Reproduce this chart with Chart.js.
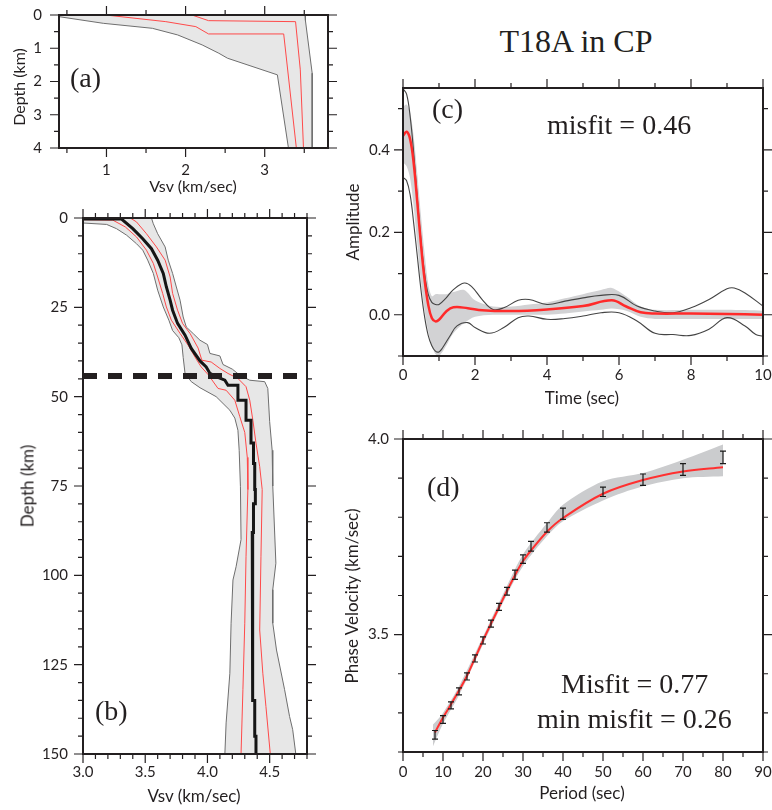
<!DOCTYPE html>
<html><head><meta charset="utf-8">
<script src="https://cdn.jsdelivr.net/npm/chart.js@4.4.1/dist/chart.umd.min.js"></script>
<style>
html,body{margin:0;padding:0;background:#fff}
body{position:relative;width:772px;height:810px;overflow:hidden}
canvas{position:absolute}
.t{position:absolute;white-space:nowrap;line-height:1;color:#231f20}
.serif{font-family:"Liberation Serif","Times New Roman",serif}
.sans{font-family:Lato,sans-serif}
.rot{transform:translate(-50%,-50%) rotate(-90deg)}
.ctr{transform:translateX(-50%)}
</style></head><body>
<canvas id="ca"></canvas><canvas id="cb"></canvas><canvas id="cc"></canvas><canvas id="cd"></canvas>

<div class="t serif ctr" style="left:576px;top:25px;font-size:32px">T18A in CP</div>
<div class="t serif" style="left:70px;top:63.5px;font-size:28px">(a)</div>
<div class="t serif" style="left:95px;top:696.5px;font-size:28px">(b)</div>
<div class="t serif" style="left:432px;top:95px;font-size:28px">(c)</div>
<div class="t serif" style="left:547px;top:111px;font-size:28px">misfit = 0.46</div>
<div class="t serif" style="left:427px;top:473px;font-size:28px">(d)</div>
<div class="t serif" style="left:561px;top:670px;font-size:28px">Misfit = 0.77</div>
<div class="t serif" style="left:537px;top:705px;font-size:28px">min misfit = 0.26</div>

<div class="t sans ctr" style="left:193px;top:178px;font-size:16px">Vsv (km/sec)</div>
<div class="t sans rot" style="left:19px;top:87px;font-size:16px">Depth (km)</div>
<div class="t sans ctr" style="left:194px;top:787px;font-size:17px">Vsv (km/sec)</div>
<div class="t sans rot" style="left:27px;top:486px;font-size:17px">Depth (km)</div>
<div class="t sans ctr" style="left:582px;top:389px;font-size:17px">Time (sec)</div>
<div class="t sans rot" style="left:352px;top:222px;font-size:17px">Amplitude</div>
<div class="t sans ctr" style="left:582px;top:784px;font-size:17px">Period (sec)</div>
<div class="t sans rot" style="left:351px;top:596px;font-size:17px">Phase Velocity (km/sec)</div>

<script>
// ---------- Panel (a): shallow Vsv profile ----------
const aXTicks = [1, 2, 3];
const aYTicks = [0, 1, 2, 3, 4];
const aEnvLoVs    = [0.40, 0.96, 1.58, 1.90, 2.21, 2.42, 2.53, 3.16, 3.30];
const aEnvLoDepth = [0.05, 0.25, 0.40, 0.60, 0.90, 1.15, 1.30, 1.80, 4.00];
const aEnvHiVs    = [3.51, 3.515, 3.60, 3.60];
const aEnvHiDepth = [0.00, 0.17, 1.75, 4.00];
const aRedLoVs    = [0.99, 1.75, 2.13, 2.29, 3.24, 3.40];
const aRedLoDepth = [0.00, 0.20, 0.35, 0.57, 0.57, 4.00];
const aRedHiVs    = [2.08, 2.29, 3.39, 3.45, 3.49];
const aRedHiDepth = [0.00, 0.17, 0.20, 1.65, 4.00];

// ---------- Panel (b): Vsv profile to 150 km ----------
const bXTicks = [3.0, 3.5, 4.0, 4.5];
const bYTicks = [0, 25, 50, 75, 100, 125, 150];
const bEnvLoVs    = [3.00,3.19,3.27,3.35,3.43,3.48,3.52,3.565,3.60,3.645,3.69,3.72,3.77,3.795,3.805,3.82,3.87,3.94,4.07,4.18,4.22,4.245,4.255,4.265,4.27,4.23,4.205,4.19,4.18,4.15,4.14];
const bEnvLoDepth = [1.4,1.8,3.0,4.8,7.2,9.0,11.8,15.5,20.2,24.9,28.6,31.5,33.5,35.5,39.0,43.5,45.8,47.5,50.0,53.8,56.0,59.4,65.0,75.2,90.0,97.6,101.3,113.4,127.4,141.3,150];
const bEnvHiVs    = [3.55,3.565,3.60,3.66,3.685,3.72,3.75,3.78,3.805,3.83,3.89,3.94,4.00,4.02,4.10,4.125,4.20,4.26,4.34,4.46,4.485,4.50,4.52,4.525,4.55,4.525,4.525,4.555,4.62,4.66,4.685,4.71];
const bEnvHiDepth = [0,1.6,4.4,8.1,11.8,15.5,19.3,23.0,27.7,30.5,32.5,34.2,35.4,37.9,38.6,41.0,42.3,44.0,45.4,45.8,47.7,57.0,65.0,75.0,96.6,104,113.4,120.9,132,139.5,143.2,150];
const bRedLoVs    = [3.00,3.24,3.34,3.43,3.51,3.565,3.60,3.64,3.67,3.71,3.78,3.845,3.91,3.95,4.005,4.085,4.15,4.22,4.26,4.30,4.32,4.325,4.31,4.30,4.285,4.27];
const bRedLoDepth = [0.45,0.6,2.5,5.3,9.0,12.7,16.5,21.1,24.9,28.6,32.3,35.6,39.5,41.7,43.8,47.7,48.2,51.0,55.6,60.0,67.0,76.0,94.8,113.4,132,150];
const bRedHiVs    = [3.38,3.43,3.51,3.59,3.66,3.70,3.72,3.76,3.80,3.86,3.925,3.955,4.03,4.10,4.165,4.245,4.31,4.34,4.365,4.39,4.42,4.44,4.43,4.42,4.445,4.47,4.505];
const bRedHiDepth = [0,1.1,4.4,8.1,11.8,16.5,21.1,25.8,29.5,32.3,36.4,39.8,40.3,42.1,43.5,44.9,47.2,51.0,56.6,63.0,69.6,76.0,94.8,115.3,127.4,136.7,150];
const bMedVs      = [3.00,3.31,3.40,3.48,3.55,3.60,3.645,3.67,3.70,3.72,3.76,3.82,3.87,3.94,3.99,4.02,4.07,4.14,4.165,4.245,4.245,4.31,4.31,4.35,4.35,4.37,4.37,4.38,4.38,4.385,4.385,4.37,4.37,4.36,4.36,4.365,4.365,4.38,4.38,4.39,4.39];
const bMedDepth   = [0.3,0.3,3.0,5.8,8.6,11.8,15.5,19.3,23.0,25.8,29.5,32.8,36.5,40.0,41.7,43.5,44.4,45.4,46.8,46.8,51.0,51.0,56.6,56.6,63.0,63.0,68.7,68.7,76.0,76.0,80.0,80.0,88.0,88.0,128,128,135,135,145,145,150];
const bMohoDepth  = 44.2;
const bMohoVs     = [3.0, 4.73];

// ---------- Panel (c): receiver function ----------
const cXTicks = [0, 2, 4, 6, 8, 10];
const cYTicks = [0.0, 0.2, 0.4];
const cRedTime = [0,0.1,0.2,0.3,0.4,0.5,0.6,0.7,0.8,0.9,1.0,1.2,1.4,1.8,2.2,3,4,5,5.8,6.2,6.6,7,8,9,10];
const cRedAmp  = [0.434,0.444,0.425,0.365,0.27,0.17,0.085,0.025,-0.008,-0.016,-0.012,0.008,0.018,0.016,0.011,0.009,0.013,0.021,0.035,0.02,0.006,0.003,0.003,0.002,0.0];
const cUpTime  = [0,0.1,0.2,0.3,0.4,0.5,0.6,0.7,0.8,0.9,1.0,1.2,1.4,1.7,1.9,2.2,2.5,2.8,3.2,3.5,4.0,4.5,5.0,5.5,6.0,6.5,7.0,7.5,8.0,8.5,9.0,9.2,9.5,10];
const cUpAmp   = [0.548,0.535,0.48,0.39,0.28,0.18,0.10,0.05,0.03,0.025,0.025,0.041,0.061,0.077,0.069,0.037,0.013,0.017,0.035,0.037,0.025,0.033,0.041,0.047,0.047,0.021,0.009,0.005,0.017,0.037,0.063,0.065,0.053,0.021];
const cLoTime  = [0,0.1,0.2,0.3,0.4,0.5,0.6,0.7,0.8,0.9,1.0,1.1,1.3,1.5,1.8,2.0,2.4,2.8,3.2,3.5,4.0,4.5,5.0,5.5,6.0,6.5,7.0,7.5,8.0,8.5,9.0,9.5,9.8,10];
const cLoAmp   = [0.333,0.325,0.29,0.22,0.14,0.06,-0.005,-0.05,-0.075,-0.088,-0.09,-0.08,-0.052,-0.027,-0.019,-0.031,-0.045,-0.031,-0.007,-0.003,-0.011,-0.009,-0.003,0.005,0.005,-0.015,-0.045,-0.048,-0.05,-0.035,-0.007,-0.027,-0.048,-0.052];
const cBandTime = [0,0.1,0.2,0.3,0.4,0.5,0.6,0.7,0.8,0.9,1.0,1.2,1.4,1.7,2.0,2.5,3,3.5,4,4.5,5,5.5,5.8,6.2,6.6,7,8,9,10];
const cBandHi   = [0.505,0.51,0.49,0.43,0.34,0.24,0.15,0.075,0.045,0.05,0.05,0.05,0.055,0.06,0.035,0.02,0.02,0.025,0.03,0.04,0.05,0.06,0.065,0.045,0.02,0.012,0.012,0.012,0.01];
const cBandLo   = [0.37,0.36,0.33,0.26,0.17,0.08,0.01,-0.04,-0.075,-0.095,-0.1,-0.075,-0.045,-0.02,-0.005,0.0,0.0,0.0,0.0,0.003,0.008,0.012,0.015,0.01,-0.005,-0.01,-0.01,-0.01,-0.01];

// ---------- Panel (d): phase velocity dispersion ----------
const dXTicks = [0,10,20,30,40,50,60,70,80,90];
const dYTicks = [3.5, 4.0];
const dPeriod = [8,10,12,14,16,18,20,22,24,26,28,30,32,36,40,50,60,70,80];
const dObs    = [3.244,3.283,3.319,3.355,3.393,3.439,3.485,3.528,3.571,3.611,3.653,3.693,3.726,3.774,3.809,3.865,3.896,3.922,3.953];
const dErr    = [0.011,0.010,0.009,0.009,0.009,0.009,0.009,0.009,0.009,0.010,0.012,0.011,0.0124,0.012,0.0145,0.012,0.0145,0.015,0.016];
const dPred   = [3.250,3.288,3.322,3.357,3.395,3.440,3.485,3.528,3.570,3.612,3.652,3.688,3.715,3.763,3.798,3.860,3.895,3.917,3.928];
const dBandPeriod = [7.5,10,14,20,26,30,36,40,50,60,70,80];
const dBandHi = [3.27,3.30,3.368,3.495,3.625,3.705,3.785,3.832,3.892,3.913,3.947,3.986];
const dBandLo = [3.215,3.272,3.345,3.475,3.602,3.675,3.752,3.79,3.843,3.879,3.90,3.905];

// ---------- helpers ----------
const INK = '#231f20';
Chart.defaults.font.family = 'Lato';
Chart.defaults.font.size = 15;
Chart.defaults.color = INK;

const pts = (xs, ys) => xs.map((v, i) => ({x: v, y: ys[i]}));

const framePlugin = {
  id: 'frame',
  afterDraw(chart, args, o) {
    const {ctx, chartArea: a, scales: {x, y}} = chart;
    ctx.save();
    ctx.strokeStyle = INK;
    ctx.lineWidth = 1.2;
    const each = (sc, minor, major, fn) => {
      const lo = Math.min(sc.min, sc.max), hi = Math.max(sc.min, sc.max);
      for (let k = Math.ceil(lo / minor - 1e-6); k * minor <= hi + 1e-6; k++) {
        const v = k * minor;
        const isMaj = Math.abs(v / major - Math.round(v / major)) < 1e-6;
        fn(sc.getPixelForValue(v), isMaj ? o.maj : o.min);
      }
    };
    ctx.beginPath();
    each(x, o.xMinor, o.xMajor, (p, L) => {
      ctx.moveTo(p, a.bottom); ctx.lineTo(p, a.bottom + L);
      ctx.moveTo(p, a.top); ctx.lineTo(p, a.top - L);
    });
    each(y, o.yMinor, o.yMajor, (p, L) => {
      ctx.moveTo(a.left, p); ctx.lineTo(a.left - L, p);
      ctx.moveTo(a.right, p); ctx.lineTo(a.right + L, p);
    });
    ctx.stroke();
    ctx.lineWidth = 2;
    ctx.strokeRect(a.left, a.top, a.right - a.left, a.bottom - a.top);
    ctx.restore();
  }
};

const errPlugin = {
  id: 'errbars',
  afterDatasetsDraw(chart, args, o) {
    if (!o || !o.xs) return;
    const {ctx, scales: {x, y}} = chart;
    ctx.save();
    ctx.strokeStyle = '#1a1a1a';
    ctx.lineWidth = 1.2;
    ctx.beginPath();
    o.xs.forEach((p, i) => {
      const px = x.getPixelForValue(p);
      const y1 = y.getPixelForValue(o.vs[i] - o.es[i]);
      const y2 = y.getPixelForValue(o.vs[i] + o.es[i]);
      ctx.moveTo(px, y1); ctx.lineTo(px, y2);
      ctx.moveTo(px - 3, y1); ctx.lineTo(px + 3, y1);
      ctx.moveTo(px - 3, y2); ctx.lineTo(px + 3, y2);
    });
    ctx.stroke();
    ctx.restore();
  }
};

const zeroPad = s => { s.paddingTop = 0; s.paddingBottom = 0; s.paddingLeft = 0; s.paddingRight = 0; };

function makePanel(id, area, ax, datasets, extra) {
  const ml = 60, mr = 20, mt = 16, mb = 36;
  const cv = document.getElementById(id);
  cv.width = area.r - area.l + ml + mr;
  cv.height = area.b - area.t + mt + mb;
  cv.style.left = (area.l - ml) + 'px';
  cv.style.top = (area.t - mt) + 'px';
  return new Chart(cv, {
    type: 'line',
    data: {datasets},
    options: {
      responsive: false, animation: false, devicePixelRatio: 1, events: [],
      layout: {padding: {top: mt, right: mr, left: 0, bottom: 0}},
      elements: {point: {radius: 0}, line: {tension: 0}},
      plugins: Object.assign({
        legend: {display: false}, tooltip: {enabled: false},
        filler: {drawTime: 'beforeDatasetsDraw'},
        frame: ax.frame
      }, extra || {}),
      scales: {
        x: {
          type: 'linear', min: ax.xMin, max: ax.xMax,
          grid: {display: false, drawTicks: false}, border: {display: false},
          ticks: {padding: ax.xPad, autoSkip: false, maxRotation: 0, callback: ax.xFmt},
          afterBuildTicks: s => { s.ticks = ax.xTicks.map(v => ({value: v})); },
          afterFit: s => { s.height = mb; zeroPad(s); }
        },
        y: {
          type: 'linear', min: ax.yMin, max: ax.yMax, reverse: !!ax.yRev,
          grid: {display: false, drawTicks: false}, border: {display: false},
          ticks: {padding: ax.yPad, autoSkip: false, callback: ax.yFmt},
          afterBuildTicks: s => { s.ticks = ax.yTicks.map(v => ({value: v})); },
          afterFit: s => { s.width = ml; zeroPad(s); }
        }
      }
    },
    plugins: [framePlugin, errPlugin]
  });
}

const FILL_AB = '#e7e7e7', ENV = '#6e6e6e', RED_THIN = '#ff4a4a';

// (a)
makePanel('ca', {l: 59, r: 328, t: 15, b: 148}, {
  xMin: 0.4, xMax: 3.8, yMin: 0, yMax: 4, yRev: true,
  xTicks: aXTicks, yTicks: aYTicks, xPad: 13, yPad: 17,
  xFmt: v => String(v), yFmt: v => String(v),
  frame: {xMinor: 0.5, xMajor: 1, yMinor: 0.5, yMajor: 1, maj: 9, min: 5}
}, [
  {data: pts(aRedLoVs, aRedLoDepth), borderColor: RED_THIN, borderWidth: 1, fill: false},
  {data: pts(aRedHiVs, aRedHiDepth), borderColor: RED_THIN, borderWidth: 1, fill: false},
  {data: pts(aEnvLoVs, aEnvLoDepth), borderColor: ENV, borderWidth: 1, fill: false},
  {data: pts(aEnvHiVs, aEnvHiDepth), borderColor: ENV, borderWidth: 1, fill: false},
  {data: pts(aEnvLoVs, aEnvLoDepth).concat(pts(aEnvHiVs, aEnvHiDepth).reverse(), [{x: 0.4, y: 0}]),
   borderWidth: 0, borderColor: 'rgba(0,0,0,0)', backgroundColor: FILL_AB, fill: 'shape'}
]);

// (b)
makePanel('cb', {l: 83, r: 307, t: 218, b: 754}, {
  xMin: 3.0, xMax: 4.8, yMin: 0, yMax: 150, yRev: true,
  xTicks: bXTicks, yTicks: bYTicks, xPad: 9, yPad: 15,
  xFmt: v => v.toFixed(1), yFmt: v => String(v),
  frame: {xMinor: 0.1, xMajor: 0.5, yMinor: 5, yMajor: 25, maj: 9, min: 5}
}, [
  {data: [{x: bMohoVs[0], y: bMohoDepth}, {x: bMohoVs[1], y: bMohoDepth}],
   borderColor: INK, borderWidth: 6, borderDash: [14, 11], borderCapStyle: 'butt', fill: false},
  {data: pts(bMedVs, bMedDepth), borderColor: '#151515', borderWidth: 3, fill: false},
  {data: pts(bRedLoVs, bRedLoDepth), borderColor: RED_THIN, borderWidth: 1, fill: false},
  {data: pts(bRedHiVs, bRedHiDepth), borderColor: RED_THIN, borderWidth: 1, fill: false},
  {data: pts(bEnvLoVs, bEnvLoDepth), borderColor: ENV, borderWidth: 1, fill: false},
  {data: pts(bEnvHiVs, bEnvHiDepth), borderColor: ENV, borderWidth: 1, fill: false},
  {data: pts(bEnvLoVs, bEnvLoDepth).concat(pts(bEnvHiVs, bEnvHiDepth).reverse(), [{x: 3.0, y: 0}]),
   borderWidth: 0, borderColor: 'rgba(0,0,0,0)', backgroundColor: FILL_AB, fill: 'shape'}
]);

// (c)
makePanel('cc', {l: 403, r: 763, t: 88, b: 356}, {
  xMin: 0, xMax: 10, yMin: -0.1, yMax: 0.55,
  xTicks: cXTicks, yTicks: cYTicks, xPad: 10, yPad: 13,
  xFmt: v => String(v), yFmt: v => v.toFixed(1),
  frame: {xMinor: 1, xMajor: 2, yMinor: 0.1, yMajor: 0.2, maj: 9, min: 5}
}, [
  {data: pts(cRedTime, cRedAmp), borderColor: '#ff2a2a', borderWidth: 2.5, tension: 0.4, fill: false},
  {data: pts(cUpTime, cUpAmp), borderColor: '#444', borderWidth: 1.1, tension: 0.4, fill: false},
  {data: pts(cLoTime, cLoAmp), borderColor: '#444', borderWidth: 1.1, tension: 0.4, fill: false},
  {data: pts(cBandTime, cBandHi), borderWidth: 0, borderColor: 'rgba(0,0,0,0)', backgroundColor: '#d2d2d4', tension: 0.3, fill: '+1'},
  {data: pts(cBandTime, cBandLo), borderWidth: 0, borderColor: 'rgba(0,0,0,0)', tension: 0.3, fill: false}
]);

// (d)
makePanel('cd', {l: 403, r: 763, t: 439, b: 752}, {
  xMin: 0, xMax: 90, yMin: 3.2, yMax: 4.0,
  xTicks: dXTicks, yTicks: dYTicks, xPad: 11, yPad: 14,
  xFmt: v => String(v), yFmt: v => v.toFixed(1),
  frame: {xMinor: 5, xMajor: 10, yMinor: 0.1, yMajor: 0.5, maj: 9, min: 5}
}, [
  {data: pts(dPeriod, dPred), borderColor: '#ff3030', borderWidth: 2, tension: 0.35, fill: false},
  {data: pts(dBandPeriod, dBandHi), borderWidth: 0, borderColor: 'rgba(0,0,0,0)', backgroundColor: '#cbccce', tension: 0.3, fill: '+1'},
  {data: pts(dBandPeriod, dBandLo), borderWidth: 0, borderColor: 'rgba(0,0,0,0)', tension: 0.3, fill: false}
], {errbars: {xs: dPeriod, vs: dObs, es: dErr}});
</script>
</body></html>
